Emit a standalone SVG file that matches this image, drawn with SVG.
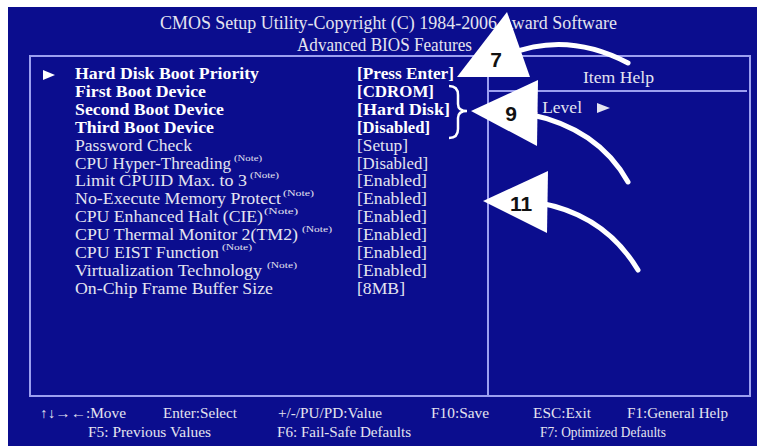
<svg xmlns="http://www.w3.org/2000/svg" width="757" height="446" viewBox="0 0 757 446">
<style>
.t{font-family:"Liberation Serif","Times New Roman",serif;fill:#e4e4f0}
.b{font-weight:bold;fill:#ffffff}
.r{font-size:17.5px}
.n{font-size:9px}
.f{font-size:14px}
.h{font-size:19px}
.ln{stroke:#9c9ff0;stroke-width:2;fill:none}
.tail{stroke:#ffffff;stroke-width:5;fill:none;stroke-linecap:round}
.head{fill:#ffffff}
.num{font-family:"Liberation Sans",Arial,sans-serif;font-weight:bold;font-size:21px;fill:#111111;text-anchor:middle}
</style>
<rect x="0" y="0" width="757" height="446" fill="#ffffff"/>
<rect x="8" y="7" width="749" height="439" fill="#0b0d8e"/>

<g id="title">
<text class="t h" x="160" y="29" textLength="457" lengthAdjust="spacingAndGlyphs">CMOS Setup Utility-Copyright (C) 1984-2006 Award Software</text>
<text class="t h" x="297" y="51" textLength="175" lengthAdjust="spacingAndGlyphs">Advanced BIOS Features</text>
</g>

<g id="frame">
<rect class="ln" x="30" y="56" width="720" height="340"/>
<line class="ln" x1="488" y1="56" x2="488" y2="396"/>
<line class="ln" x1="488" y1="91" x2="747" y2="91"/>
</g>

<g id="settings">
<polygon points="43,70 55,75 43,80" fill="#ffffff"/>
<text class="t r b" x="75" y="79" textLength="184" lengthAdjust="spacingAndGlyphs">Hard Disk Boot Priority</text>
<text class="t r b" x="357" y="79" textLength="97" lengthAdjust="spacingAndGlyphs">[Press Enter]</text>
<text class="t r b" x="75" y="96.9" textLength="131" lengthAdjust="spacingAndGlyphs">First Boot Device</text>
<text class="t r b" x="357" y="96.9" textLength="77" lengthAdjust="spacingAndGlyphs">[CDROM]</text>
<text class="t r b" x="75" y="114.8" textLength="149" lengthAdjust="spacingAndGlyphs">Second Boot Device</text>
<text class="t r b" x="357" y="114.8" textLength="93" lengthAdjust="spacingAndGlyphs">[Hard Disk]</text>
<text class="t r b" x="75" y="132.7" textLength="139" lengthAdjust="spacingAndGlyphs">Third Boot Device</text>
<text class="t r b" x="357" y="132.7" textLength="73" lengthAdjust="spacingAndGlyphs">[Disabled]</text>
<text class="t r" x="75" y="150.6" textLength="117" lengthAdjust="spacingAndGlyphs">Password Check</text>
<text class="t r" x="357" y="150.6" textLength="51" lengthAdjust="spacingAndGlyphs">[Setup]</text>
<text class="t r" x="75" y="168.5" textLength="156" lengthAdjust="spacingAndGlyphs">CPU Hyper-Threading</text>
<text class="t n" x="234" y="160.5" textLength="28" lengthAdjust="spacingAndGlyphs">(Note)</text>
<text class="t r" x="357" y="168.5" textLength="71" lengthAdjust="spacingAndGlyphs">[Disabled]</text>
<text class="t r" x="75" y="186.4" textLength="172" lengthAdjust="spacingAndGlyphs">Limit CPUID Max. to 3</text>
<text class="t n" x="250" y="178.4" textLength="29" lengthAdjust="spacingAndGlyphs">(Note)</text>
<text class="t r" x="357" y="186.4" textLength="70" lengthAdjust="spacingAndGlyphs">[Enabled]</text>
<text class="t r" x="75" y="204.3" textLength="206" lengthAdjust="spacingAndGlyphs">No-Execute Memory Protect</text>
<text class="t n" x="283" y="196.3" textLength="31" lengthAdjust="spacingAndGlyphs">(Note)</text>
<text class="t r" x="357" y="204.3" textLength="70" lengthAdjust="spacingAndGlyphs">[Enabled]</text>
<text class="t r" x="75" y="222.2" textLength="188" lengthAdjust="spacingAndGlyphs">CPU Enhanced Halt (CIE)</text>
<text class="t n" x="264" y="214.2" textLength="34" lengthAdjust="spacingAndGlyphs">(Note)</text>
<text class="t r" x="357" y="222.2" textLength="70" lengthAdjust="spacingAndGlyphs">[Enabled]</text>
<text class="t r" x="75" y="240.1" textLength="223" lengthAdjust="spacingAndGlyphs">CPU Thermal Monitor 2(TM2)</text>
<text class="t n" x="302" y="232.1" textLength="30" lengthAdjust="spacingAndGlyphs">(Note)</text>
<text class="t r" x="357" y="240.1" textLength="70" lengthAdjust="spacingAndGlyphs">[Enabled]</text>
<text class="t r" x="75" y="258" textLength="144" lengthAdjust="spacingAndGlyphs">CPU EIST Function</text>
<text class="t n" x="222" y="250" textLength="30" lengthAdjust="spacingAndGlyphs">(Note)</text>
<text class="t r" x="357" y="258" textLength="70" lengthAdjust="spacingAndGlyphs">[Enabled]</text>
<text class="t r" x="75" y="275.9" textLength="187" lengthAdjust="spacingAndGlyphs">Virtualization Technology</text>
<text class="t n" x="267" y="267.9" textLength="30" lengthAdjust="spacingAndGlyphs">(Note)</text>
<text class="t r" x="357" y="275.9" textLength="70" lengthAdjust="spacingAndGlyphs">[Enabled]</text>
<text class="t r" x="75" y="293.8" textLength="198" lengthAdjust="spacingAndGlyphs">On-Chip Frame Buffer Size</text>
<text class="t r" x="357" y="293.8" textLength="48" lengthAdjust="spacingAndGlyphs">[8MB]</text>
</g>

<g id="item-help">
<text class="t r" x="583" y="83" textLength="71" lengthAdjust="spacingAndGlyphs">Item Help</text>
<text class="t r" x="582" y="113" text-anchor="end">Menu Level</text>
<polygon points="597,103 610,108 597,113" fill="#e4e4f0"/>
</g>

<g id="footer">
<text class="t f" x="40" y="418" textLength="86" lengthAdjust="spacingAndGlyphs">↑↓→←:Move</text>
<text class="t f" x="163" y="418" textLength="74" lengthAdjust="spacingAndGlyphs">Enter:Select</text>
<text class="t f" x="278" y="418" textLength="104" lengthAdjust="spacingAndGlyphs">+/-/PU/PD:Value</text>
<text class="t f" x="431" y="418" textLength="58" lengthAdjust="spacingAndGlyphs">F10:Save</text>
<text class="t f" x="533" y="418" textLength="58" lengthAdjust="spacingAndGlyphs">ESC:Exit</text>
<text class="t f" x="627" y="418" textLength="101" lengthAdjust="spacingAndGlyphs">F1:General Help</text>
<text class="t f" x="88" y="437" textLength="123" lengthAdjust="spacingAndGlyphs">F5: Previous Values</text>
<text class="t f" x="277" y="437" textLength="134" lengthAdjust="spacingAndGlyphs">F6: Fail-Safe Defaults</text>
<text class="t f" x="540" y="437" textLength="126" lengthAdjust="spacingAndGlyphs">F7: Optimized Defaults</text>
</g>

<g id="connectors">
<path d="M449,86 Q458,86 458,95 L458,104 Q458,111 467,111 Q458,111 458,118 L458,129 Q458,138 449,138" stroke="#ffffff" stroke-width="2.5" fill="none"/>
<path class="tail" d="M505,56 Q565,30 628,63"/>
<path class="tail" d="M528,114 Q598,128 628,182"/>
<path class="tail" d="M540,203 Q605,215 638,270"/>
</g>

<g id="callout-7">
<polygon class="head" points="457,77 530,77 507,12"/>
<text class="num" x="496" y="67">7</text>
</g>
<g id="callout-9">
<polygon class="head" points="471,111 538,80 537,146"/>
<text class="num" x="511" y="121">9</text>
</g>
<g id="callout-11">
<polygon class="head" points="483,201 548,171 547,233"/>
<text class="num" x="521" y="211">11</text>
</g>
</svg>
